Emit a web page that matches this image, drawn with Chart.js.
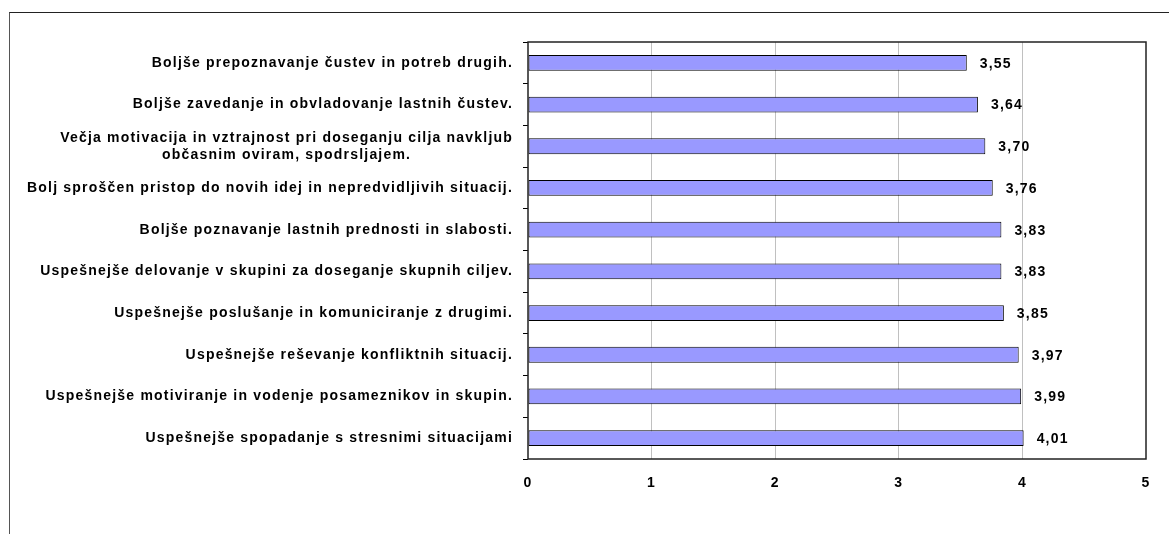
<!DOCTYPE html>
<html>
<head>
<meta charset="utf-8">
<title>Ocena učinkov</title>
<script src="https://cdn.jsdelivr.net/npm/chart.js@4.4.1/dist/chart.umd.min.js"></script>
<style>
    html, body { margin: 0; padding: 0; background: #fff; overflow: hidden; }
    #wrap { position: relative; width: 1169px; height: 534px; }
    #frame {
        position: absolute; left: 9px; top: 12px;
        width: 1300px; height: 700px;
        border-top: 1px solid #222; border-left: 1px solid #555;
    }
    #chart { position: absolute; left: 0; top: 0; }
</style>
</head>
<body>
<div id="wrap">
    <div id="frame"></div>
    <canvas id="chart" width="1169" height="534"></canvas>
</div>
<script>
    // categories, top to bottom
    const categories = [
        'Boljše prepoznavanje čustev in potreb drugih.',
        'Boljše zavedanje in obvladovanje lastnih čustev.',
        ['Večja motivacija in vztrajnost pri doseganju cilja navkljub', 'občasnim oviram, spodrsljajem.'],
        'Bolj sproščen pristop do novih idej in nepredvidljivih situacij.',
        'Boljše poznavanje lastnih prednosti in slabosti.',
        'Uspešnejše delovanje v skupini za doseganje skupnih ciljev.',
        'Uspešnejše poslušanje in komuniciranje z drugimi.',
        'Uspešnejše reševanje konfliktnih situacij.',
        'Uspešnejše motiviranje in vodenje posameznikov in skupin.',
        'Uspešnejše spopadanje s stresnimi situacijami'
    ];
    const averages = [3.55, 3.64, 3.70, 3.76, 3.83, 3.83, 3.85, 3.97, 3.99, 4.01];
    const xTicks = [0, 1, 2, 3, 4, 5];

    const FONT = '"Liberation Sans", Arial, sans-serif';
    const SPACING = '1.2px';
    const TICK_LEN = 5;
    const TICK_PAD = 10;
    const LINE_H = 17;

    // wider letter spacing for all the text on the canvas
    const spacedText = {
        id: 'spacedText',
        beforeDraw(chart) {
            chart.ctx.letterSpacing = SPACING;
        }
    };

    // two-line category labels: block right-aligned, lines centred
    const centredLabels = {
        id: 'centredLabels',
        afterDraw(chart) {
            const scale = chart.scales.y;
            const ctx = chart.ctx;
            const right = scale.right - TICK_LEN - TICK_PAD;
            ctx.save();
            ctx.letterSpacing = SPACING;
            ctx.font = 'bold 14px ' + FONT;
            ctx.fillStyle = '#000';
            ctx.textAlign = 'center';
            ctx.textBaseline = 'middle';
            categories.forEach((lab, i) => {
                if (!Array.isArray(lab)) return;
                const w = Math.max(...lab.map((s) => ctx.measureText(s).width));
                const cx = right - w / 2;
                const y0 = scale.getPixelForTick(i) - (lab.length - 1) * LINE_H / 2;
                lab.forEach((s, k) => ctx.fillText(s, cx, y0 + k * LINE_H));
            });
            ctx.restore();
        }
    };

    // value text to the right of each bar, decimal comma
    const valueLabels = {
        id: 'valueLabels',
        afterDatasetsDraw(chart) {
            const ctx = chart.ctx;
            const meta = chart.getDatasetMeta(0);
            ctx.save();
            ctx.letterSpacing = SPACING;
            ctx.font = 'bold 14px ' + FONT;
            ctx.fillStyle = '#000';
            ctx.textBaseline = 'middle';
            ctx.textAlign = 'left';
            meta.data.forEach((bar, i) => {
                const txt = averages[i].toFixed(2).replace('.', ',');
                ctx.fillText(txt, bar.x + 13, bar.y + 1);
            });
            ctx.restore();
        }
    };

    // dark frame round the plot area
    const plotFrame = {
        id: 'plotFrame',
        afterDraw(chart) {
            const a = chart.chartArea;
            const ctx = chart.ctx;
            ctx.save();
            ctx.strokeStyle = '#222';
            ctx.lineWidth = 1.5;
            ctx.strokeRect(a.left, a.top, a.right - a.left, a.bottom - a.top);
            ctx.restore();
        }
    };

    new Chart(document.getElementById('chart'), {
        type: 'bar',
        data: {
            labels: categories,
            datasets: [{
                data: averages,
                backgroundColor: '#9999ff',
                borderColor: '#000',
                borderWidth: 1,
                borderSkipped: false,
                categoryPercentage: 1,
                barPercentage: 0.38
            }]
        },
        options: {
            indexAxis: 'y',
            responsive: false,
            animation: false,
            layout: { padding: { top: 42, right: 23, left: 0, bottom: 0 } },
            plugins: {
                legend: { display: false },
                tooltip: { enabled: false }
            },
            scales: {
                x: {
                    min: 0,
                    max: 5,
                    afterBuildTicks(scale) {
                        scale.ticks = xTicks.map((v) => ({ value: v }));
                    },
                    afterFit(scale) { scale.height = 75; },
                    grid: {
                        color: (c) => (c.tick && c.tick.value > 0 && c.tick.value < 5 ? '#c0c0c0' : 'rgba(0,0,0,0)'),
                        drawTicks: false
                    },
                    border: { display: false },
                    ticks: {
                        padding: 16,
                        color: '#000',
                        font: { family: FONT, size: 14, weight: 'bold' }
                    }
                },
                y: {
                    afterFit(scale) { scale.width = 528; },
                    grid: {
                        offset: true,
                        drawOnChartArea: false,
                        drawTicks: true,
                        tickLength: TICK_LEN,
                        color: '#000'
                    },
                    border: { display: false },
                    ticks: {
                        padding: TICK_PAD,
                        color: '#000',
                        autoSkip: false,
                        // multi-line labels are drawn by centredLabels
                        callback: (v, i) => (Array.isArray(categories[i]) ? '' : categories[i]),
                        font: { family: FONT, size: 14, weight: 'bold' }
                    }
                }
            }
        },
        plugins: [spacedText, valueLabels, plotFrame, centredLabels]
    });
</script>
</body>
</html>
